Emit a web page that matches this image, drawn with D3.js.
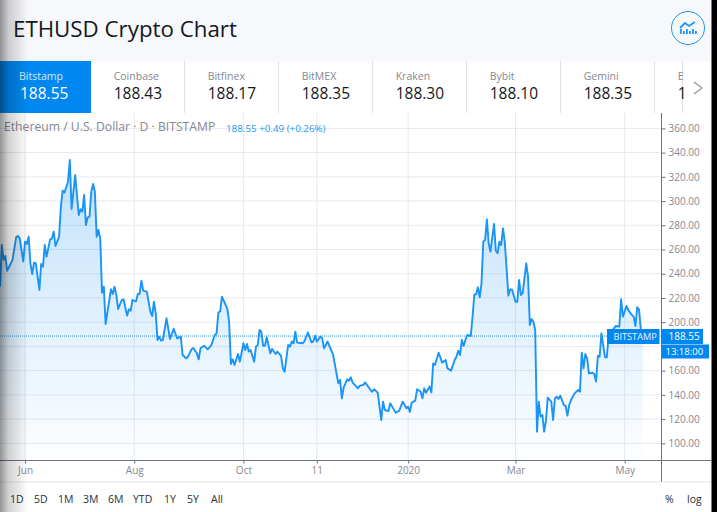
<!DOCTYPE html>
<html>
<head>
<meta charset="utf-8">
<title>ETHUSD Crypto Chart</title>
<script src="https://cdn.jsdelivr.net/npm/d3@7"></script>
<style>
  html, body { margin: 0; padding: 0; background: #fff; overflow: hidden; }
  svg { display: block; font-family: "Open Sans", sans-serif; }
  .y-axis path, .x-axis path { display: none; }
</style>
</head>
<body>
<svg id="chart" width="717" height="512"></svg>
<script>
const priceDays = [
  0,1,2,3,4,7,9,10,11,13, 14,15,16,17,18,19,20,22,23,24,
  25,26,28,29,30,31,33,34,35,36, 38,39,40,42,44,45,46,47,48,49,
  50,51,52,53,54,55,56,57,58,59, 62,63,64,65,66,68,69,71,72,73,
  74,76,77,78,79,80,82,84,85,86, 87,88,89,90,91,93,95,97,99,101,
  102,104,105,107,108,110,111,112,114,116, 118,120,121,122,123,124,127,128,129,130,
  131,133,134,136,137,138,139,140,142,143, 144,145,146,147,148,149,151,152,154,155,
  157,158,159,161,162,163,164,165,166,169, 170,172,174,175,176,177,179,180,181,183,
  185,186,189,190,191,192,194,195,196,197, 200,201,203,204,207,208,209,211,213,214,
  215,217,218,220,221,223,225,227,228,229, 230,232,233,235,236,237,238,240,241,242,
  243,245,246,247,249,250,252,254,255,256, 257,258,259,260,261,263,264,265,266,267,
  268,269,270,271,272,273,274,276,277,278, 279,280,281,282,284,285,286,288,289,290,
  291,292,294,295,296,297,298,299,300,301, 302,303,304,305,306,308,309,310,311,312,
  313,315,316,317,318,319,321,323,324,325, 326,327,328,329,331,332,333,334,335,336,
  338,339,340,342,344,346,347,348,350,351, 353,354,355,356,357,358,359
];
const priceValues = [
  229.3,263.7,251.4,254.7,242.5,251.4,270.1,271.2,269.3,250, 266.5,264.6,270.6,248.6,239.8,249.2,248.6,226.6,248,245.8,
  263.7,254.1,268.4,269,274.8,262.9,270.6,295.4,308.6,307, 316,333.9,293.5,321.5,288.5,293.2,291.3,305,280.3,286.6,
  287.1,307.8,314.1,307.8,270.6,276.1,269.2,224.4,229.3,198.5, 227.2,223.3,229.3,222.4,210.9,218.3,218.9,205.4,210.6,209.5,
  218.3,217.2,223.3,223.3,234.3,226,225.2,208.7,205.1,216.9, 207.3,185.3,188,184.7,185.3,203.2,186.1,194.6,186.7,188,
  172.9,170.2,171.5,177.6,178.7,174.3,169.3,178.4,180.6,177.6, 180.9,189.4,190.8,207.9,209,221.1,211,200.4,165.5,169.3,
  164.7,173.7,167.4,182.6,177,182,175.7,177,167.4,179.8, 181.2,193.6,192.2,180.4,180.4,187.5,174.3,177.9,173.7,175.7,
  172.1,161.9,159.1,181.2,179.8,184,182.6,192.2,183.1,182.6, 184,191.4,183.4,184,188.9,184,188.1,186.7,178.4,184,
  177,173.7,149.5,152.3,137.1,146.2,152.8,151.7,154.5,150.1, 145.4,147.6,148.1,150.3,144,142.6,144.6,141.8,119.2,134.4,
  127.5,126.7,133,128,125.3,126.7,134.4,128.9,130.3,125.9, 133.6,135.2,144.6,142.6,137.1,145.4,141.8,146.8,142,166,
  164.7,174.8,171,166.6,168.8,161.9,160,168.8,171.5,176.5, 172.9,185.3,180.3,185.3,189.4,188.6,204.6,223,223,228.8,
  220.5,232.1,266.5,267.9,284.9,265.1,258.2,281.1,259,256.9, 266.5,263.7,277.5,266.5,221.9,227.1,227.1,216.9,216.9,234.8,
  222.5,223.8,248.6,237.6,197.7,202.6,200.4,193.6,109.6,134.4, 122,123.4,109.6,118.4,137.7,134.4,119.2,137.1,138.5,136.6,
  139.3,131.6,131,122.8,131.6,135.7,141.2,144,142.6,174.8, 161.9,173.7,170.2,157.8,158.3,157.2,150.9,172.1,171.5,190.8,
  171,171,188,193,196.8,196.3,218.9,204.6,213.4,210, 205.9,204.6,196.8,212.3,210.6,194,188.55
];
const lastPrice = 188.55;

const yTicks = [100,120,140,160,180,200,220,240,260,280,300,320,340,360];
const xTickDates = ['2019-06-01','2019-08-01','2019-10-01','2019-11-11','2020-01-01','2020-03-01','2020-05-01'];
const xTickLabels = ['Jun','Aug','Oct','11','2020','Mar','May'];

const exchanges = ['Bitstamp','Coinbase','Bitfinex','BitMEX','Kraken','Bybit','Gemini','E'];
const exchangePrices = ['188.55','188.43','188.17','188.35','188.30','188.10','188.35','1'];
const ranges = ['1D','5D','1M','3M','6M','YTD','1Y','5Y','All'];
const rangeX = [10,34,58,83,108,133,164,187,211];

const blue = '#0088f0';
const lineBlue = '#1a94f6';
const gridColor = '#e8e9f0';
const axisColor = '#6f7280';
const textGray = '#858892';

const svg = d3.select('#chart');
const defs = svg.append('defs');

const fillGrad = defs.append('linearGradient')
  .attr('id', 'areaFill')
  .attr('gradientUnits', 'userSpaceOnUse')
  .attr('x1', 0).attr('x2', 0).attr('y1', 160).attr('y2', 460);
fillGrad.append('stop').attr('offset', 0).attr('stop-color', '#2196f3').attr('stop-opacity', 0.28);
fillGrad.append('stop').attr('offset', 1).attr('stop-color', '#2196f3').attr('stop-opacity', 0.01);

const shade = defs.append('linearGradient').attr('id', 'leftShade');
shade.append('stop').attr('offset', 0).attr('stop-color', '#000').attr('stop-opacity', 0.42);
shade.append('stop').attr('offset', 0.3).attr('stop-color', '#000').attr('stop-opacity', 0.18);
shade.append('stop').attr('offset', 1).attr('stop-color', '#000').attr('stop-opacity', 0);

// scales
const startDate = new Date(Date.UTC(2019, 4, 18));
const dayToDate = d => d3.utcDay.offset(startDate, d);
const x = d3.scaleUtc()
  .domain([startDate, dayToDate(359)])
  .range([0, 642.6]);
const y = d3.scaleLinear()
  .domain([100, 360])
  .range([443.3, 128.4]);

const tickDates = xTickDates.map(d => new Date(d + 'T00:00:00Z'));

// header
svg.append('rect').attr('width', 717).attr('height', 61).attr('fill', '#f7f8fc');
svg.append('text')
  .attr('x', 13).attr('y', 37)
  .attr('font-size', 22.3)
  .attr('fill', '#131722')
  .text('ETHUSD Crypto Chart');

// icon top right
const icon = svg.append('g').attr('transform', 'translate(688,28)');
icon.append('circle').attr('r', 16.5).attr('fill', 'none').attr('stroke', '#2196f3').attr('stroke-width', 1);
icon.append('path')
  .attr('d', 'M-8,0 L-3,-5 L1,-2 L7,-6')
  .attr('fill', 'none').attr('stroke', '#2196f3').attr('stroke-width', 1.8);
icon.selectAll('.icon-bar')
  .data([-8,-5,-2,1,4,7])
  .enter().append('rect')
  .attr('x', d => d).attr('y', (d, i) => i % 2 ? 3 : 1)
  .attr('width', 1.8).attr('height', (d, i) => i % 2 ? 3 : 5)
  .attr('fill', '#2196f3');

// exchange tabs
svg.append('rect').attr('x', 0).attr('y', 61).attr('width', 91).attr('height', 52).attr('fill', blue);
svg.selectAll('.tab-sep')
  .data([184,278,372,466,560,654,682])
  .enter().append('line')
  .attr('x1', d => d + 0.5).attr('x2', d => d + 0.5)
  .attr('y1', 61).attr('y2', 113)
  .attr('stroke', '#dfe1ea');
svg.selectAll('.tab-name')
  .data(exchanges)
  .enter().append('text')
  .attr('x', (d, i) => i === 0 ? 19 : 113.7 + (i - 1) * 94)
  .attr('y', 79.5)
  .attr('font-size', 10.5)
  .attr('fill', (d, i) => i === 0 ? '#d5ebff' : textGray)
  .text(d => d);
svg.selectAll('.tab-price')
  .data(exchangePrices)
  .enter().append('text')
  .attr('x', (d, i) => i === 0 ? 20 : 113.7 + (i - 1) * 94)
  .attr('y', 99)
  .attr('font-size', 15.5)
  .attr('fill', (d, i) => i === 0 ? '#fff' : '#131722')
  .text(d => d);
svg.append('path')
  .attr('d', 'M694,82 L702,88 L694,94')
  .attr('fill', 'none').attr('stroke', '#8a8d97').attr('stroke-width', 1.1);

// grid
svg.selectAll('.grid-h')
  .data(yTicks)
  .enter().append('line')
  .attr('x1', 0).attr('x2', 661)
  .attr('y1', d => y(d)).attr('y2', d => y(d))
  .attr('stroke', gridColor);
svg.selectAll('.grid-v')
  .data(tickDates)
  .enter().append('line')
  .attr('x1', d => x(d)).attr('x2', d => x(d))
  .attr('y1', 113).attr('y2', 460)
  .attr('stroke', gridColor);

// area + line
const points = priceDays.map((d, i) => ({ date: dayToDate(d), value: priceValues[i] }));
const area = d3.area().x(d => x(d.date)).y0(460).y1(d => y(d.value));
const line = d3.line().x(d => x(d.date)).y(d => y(d.value));
svg.append('path').datum(points).attr('d', area).attr('fill', 'url(#areaFill)');
svg.append('path').datum(points).attr('d', line)
  .attr('fill', 'none')
  .attr('stroke', lineBlue)
  .attr('stroke-width', 1.9)
  .attr('stroke-linejoin', 'round');

// last price line
svg.append('line')
  .attr('x1', 0).attr('x2', 661)
  .attr('y1', y(lastPrice)).attr('y2', y(lastPrice))
  .attr('stroke', '#2196f3').attr('stroke-dasharray', '1,1');

// axes
const yAxis = d3.axisRight(y).tickValues(yTicks).tickSize(4).tickPadding(3).tickFormat(d3.format('.2f'));
const yG = svg.append('g').attr('class', 'y-axis').attr('transform', 'translate(661.5,0)').call(yAxis);
yG.selectAll('line').attr('stroke', axisColor);
yG.selectAll('text').attr('font-size', 10).attr('fill', textGray).attr('font-family', '"Open Sans", sans-serif');
// 180.00 sits fully behind the price labels
yG.selectAll('.tick').filter(d => d === 180).select('text').remove();

const xAxis = d3.axisBottom(x).tickValues(tickDates).tickSize(3).tickPadding(3)
  .tickFormat((d, i) => xTickLabels[i]);
const xG = svg.append('g').attr('class', 'x-axis').attr('transform', 'translate(0,460.5)').call(xAxis);
xG.selectAll('line').attr('stroke', axisColor);
xG.selectAll('text').attr('font-size', 10).attr('fill', textGray).attr('font-family', '"Open Sans", sans-serif');

svg.append('line').attr('x1', 0).attr('x2', 711).attr('y1', 460.5).attr('y2', 460.5).attr('stroke', axisColor);
svg.append('line').attr('x1', 661.5).attr('x2', 661.5).attr('y1', 113).attr('y2', 482).attr('stroke', axisColor);
svg.append('line').attr('x1', 0).attr('x2', 711).attr('y1', 482).attr('y2', 482).attr('stroke', '#e3e5ed');

// legend row
svg.append('text').attr('x', 4).attr('y', 131)
  .attr('font-size', 12.2).attr('fill', textGray)
  .text('Ethereum / U.S. Dollar · D · BITSTAMP');
svg.append('text').attr('x', 226).attr('y', 132)
  .attr('font-size', 9.8).attr('fill', '#1e96f5')
  .text('188.55  +0.49 (+0.26%)');

// price labels on the axis
svg.append('rect').attr('x', 607).attr('y', 329).attr('width', 52.5).attr('height', 15).attr('fill', blue);
svg.append('text').attr('x', 613.5).attr('y', 340).attr('font-size', 9.2).attr('fill', '#e6f3ff').text('BITSTAMP');
svg.append('rect').attr('x', 661).attr('y', 329).attr('width', 42).attr('height', 15).attr('fill', blue);
svg.append('text').attr('x', 668.5).attr('y', 340).attr('font-size', 10).attr('fill', '#fff').text(lastPrice.toFixed(2));
svg.append('rect').attr('x', 662).attr('y', 344.5).attr('width', 47).attr('height', 14).attr('fill', blue);
svg.append('text').attr('x', 665.5).attr('y', 355).attr('font-size', 9.5).attr('fill', '#fff').text('13:18:00');

// range buttons
svg.selectAll('.range')
  .data(ranges)
  .enter().append('text')
  .attr('x', (d, i) => rangeX[i])
  .attr('y', 503)
  .attr('font-size', 10.5)
  .attr('fill', '#2a2e39')
  .text(d => d);
svg.append('text').attr('x', 665).attr('y', 503).attr('font-size', 10.5).attr('fill', '#2a2e39').text('%');
svg.append('text').attr('x', 687).attr('y', 503).attr('font-size', 10.5).attr('fill', '#2a2e39').text('log');

// screenshot edges
svg.append('rect').attr('x', 0).attr('y', 0).attr('width', 28).attr('height', 512).attr('fill', 'url(#leftShade)');
svg.append('rect').attr('x', 711.5).attr('y', 0).attr('width', 6).attr('height', 512).attr('fill', '#000');
</script>
</body>
</html>
